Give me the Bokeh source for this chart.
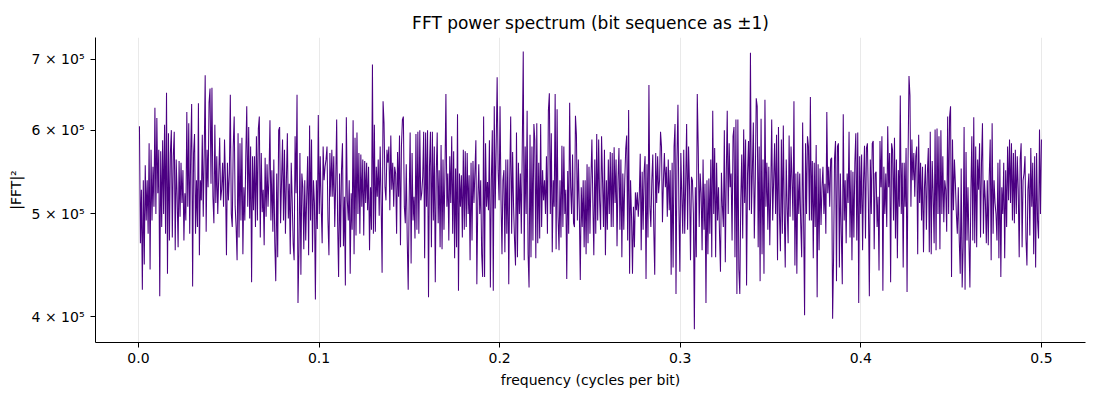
import numpy as np
from bokeh.plotting import figure
from bokeh.models import Range1d, FixedTicker, CustomJSTickFormatter, ColumnDataSource
from bokeh.embed import file_html
from bokeh.resources import INLINE

title_text = "FFT power spectrum (bit sequence as ±1)"
x_label = "frequency (cycles per bit)"
y_label = "|FFT|²"
x_ticks = [0.0, 0.1, 0.2, 0.3, 0.4, 0.5]
y_ticks = [4e5, 5e5, 6e5, 7e5]

# |FFT|^2 values in thousands, by frequency band
band_1 = [605,469,527,424,538,448,556,493,538,479,583,443,575,493,554,508,630,500,616,523,
          575,418,573,486,587,500,607,479,651,439,596,472,571,600,475,567,598,462,563,519,
          465,561,497,559,512,550,472,523,493,624,508,609,479,571,635,427,571,595,479,538,
          486,636,457,538,515,594,497,571,676,481,575,530,637,657,534,658,519,490,607,512,
          567,500,542,590,515,527,559,508,588,538,457,559,515,546,648,500,486,579,618,508]
band_2 = [486,452,596,475,583,493,590,458,530,493,567,632,508,604,495,579,431,567,504,567,
          486,592,493,602,618,475,571,502,527,467,565,497,557,508,542,613,493,550,481,563,
          469,432,546,455,600,604,490,538,588,493,575,479,538,596,495,534,458,559,515,469,
          452,592,523,648,412,462,571,438,546,530,463,538,472,519,567,457,606,493,588,460,
          538,512,415,538,484,620,500,567,508,469,579,538,554,563,579,493,457,571,519]
band_3 = [575,519,567,486,534,614,490,436,546,465,550,583,466,519,428,617,515,493,538,439,
          523,483,613,458,590,477,597,500,571,479,569,508,563,477,561,512,559,504,554,462,
          530,483,692,479,607,481,554,519,563,498,579,512,440,639,609,530,515,575,559,579,
          504,593,527,559,508,554,546,479,572,519,593,467,579,614,618,508,490,557,472,424,
          515,597,449,571,493,519,474,595,483,598,479,600,515,523,542,598,454,597,508,600,
          417,554,598,465]
band_4 = [598,493,579,431,546,597,490,550,465,581,463,563,483,546,649,508,546,472,567,512,
          592,479,573,454,552,465,621,423,546,508,544,475,575,483,573,486,571,500,544,452,
          559,472,561,512,548,587,429,515,557,500,538,458,436,618,436,583,508,536,504,587,
          426,538,600,423,632,506,579,673,550,515,632,515,458,538,550,460,563,479,563,429,
          538,618,479,572,508,472,447,597,455,559,500,546,479,579,712,452,579,500,626,458,
          426,594,455,579,472,608]
band_5 = [587,454,609,469,559,474,608,486,550,515,538,500,567,479,626,650,500,596,460,538,
          508,649,463,628,497,462,538,475,580,486,579,500,527,434,549,479,637,530,500,569,
          490,486,619,594,493,563,504,433,530,486,538,465,538,458,557,469,554,479,538,588,
          512,457,563,479,595,493,588,515,483,592,538,486,575,457,538,483,563,500,572,486,
          571,486,578,512,563,466,538,577,483,563,455,546,483,538,576,593,472,627,439,538,
          497,439,508,465,524,504]
band_6 = [524,497,519,570,462,548,483,548,567,434,557,475,662,508,486,538,569,484,438,571,
          512,567,523,538,598,579,491,538,571,530,554,497,563,504,550,438,559,445,579,608,
          420,563,634,508,441,571,519,479,575,479,534,608,483,579,530,452,542,538,500,389,
          530,455,649,579,486,546,523,462,563,483,534,412,538,458,540,479,563,455,626,500,
          577,455,559,493,530,479,441,547,508,486,600,450,544,626,500,583,530,546,472,592,
          604,455,614,420]
band_7 = [614,443,420,515,569,474,601,512,588,428,546,586,504,710,500,550,610,474,538,643,
          632,465,579,432,615,458,563,439,641,508,559,483,554,467,527,614,493,538,583,500,
          594,452,604,500,461,588,479,606,500,445,563,508,469,593,497,579,538,493,639,447,
          546,439,548,500,546,490,455,610,493,401,583,500,592,579,493,645,493,561,454,559,
          486,581,417,557,462,552,488,530,554,500,534,479,624,523,554,508,563,565,398,455,
          565,586,432,579]
band_8 = [583,445,546,479,429,621,493,538,469,546,512,598,475,550,452,548,475,559,596,472,
          597,412,567,500,569,462,538,580,474,577,583,512,418,563,500,583,586,463,546,548,
          486,519,442,586,530,592,423,554,500,546,486,605,530,571,431,583,575,493,590,474,
          563,454,550,508,647,500,559,445,559,508,577,422,559,675,647,508,588,538,571,519,
          567,579,458,594,512,559,493,554,460,530,557,483,546,577,460,598,458,561,523,469,
          601,462,602,500]
band_9 = [592,463,600,500,567,491,538,527,481,618,500,618,632,436,588,504,563,534,500,479,
          530,472,439,552,426,465,604,424,572,472,530,472,426,523,592,472,617,469,579,465,
          563,527,583,475,559,609,479,538,515,469,538,467,542,588,452,609,479,538,512,500,
          472,559,454,563,436,530,500,559,454,550,486,579,515,588,512,583,493,571,490,575,
          500,567,527,455,563,583,465,538,546,567,474,447,527,546,477,577,508,559,458,567,
          445,571,493,474,601,500,588]

power_k = band_1 + band_2 + band_3 + band_4 + band_5 + band_6 + band_7 + band_8 + band_9
power = np.array(power_k, dtype=float) * 1000.0
n = len(power)
freq = np.arange(1, n + 1) / (2.0 * n)  # frequency bins in cycles per bit

src = ColumnDataSource(data=dict(freq=freq, power=power))

FONT = "DejaVu Sans"
p = figure(width=1092, height=392, output_backend="svg", toolbar_location=None,
           y_axis_type="log",
           x_range=Range1d(-0.0238, 0.5244), y_range=Range1d(3.78e5, 7.34e5),
           min_border_left=95, min_border_right=7, min_border_top=37, min_border_bottom=50,
           title=title_text)

p.line("freq", "power", source=src, line_color="#4b0082", line_width=1.05)

p.title.align = "center"
p.title.text_font = FONT
p.title.text_font_size = "17px"
p.title.text_font_style = "normal"
p.title.text_color = "black"
p.title.offset = 0

p.outline_line_color = None
p.background_fill_color = "white"
p.border_fill_color = "white"

p.xaxis.ticker = FixedTicker(ticks=x_ticks)
p.xaxis.formatter = CustomJSTickFormatter(code="return tick.toFixed(1);")
p.yaxis.ticker = FixedTicker(ticks=y_ticks)
p.yaxis.formatter = CustomJSTickFormatter(code="return Math.round(tick/1e5) + ' \u00d7 10\u2075';")

p.xaxis.axis_label = x_label
p.yaxis.axis_label = y_label
for ax in (p.xaxis, p.yaxis):
    ax.axis_label_text_font = FONT
    ax.axis_label_text_font_size = "14px"
    ax.axis_label_text_font_style = "normal"
    ax.axis_label_text_color = "black"
    ax.major_label_text_font = FONT
    ax.major_label_text_font_size = "14px"
    ax.major_label_text_color = "black"
    ax.axis_line_color = "black"
    ax.axis_line_width = 1
    ax.major_tick_line_color = "black"
    ax.major_tick_out = 5
    ax.major_tick_in = 0
    ax.minor_tick_line_color = None
p.xaxis.axis_label_standoff = 6
p.yaxis.axis_label_standoff = 5
p.yaxis.major_label_standoff = 6

p.xgrid.grid_line_color = "#b0b0b0"
p.xgrid.grid_line_alpha = 0.35
p.xgrid.grid_line_width = 0.8
p.ygrid.visible = False

open("out.html", "w").write(file_html(p, INLINE))
